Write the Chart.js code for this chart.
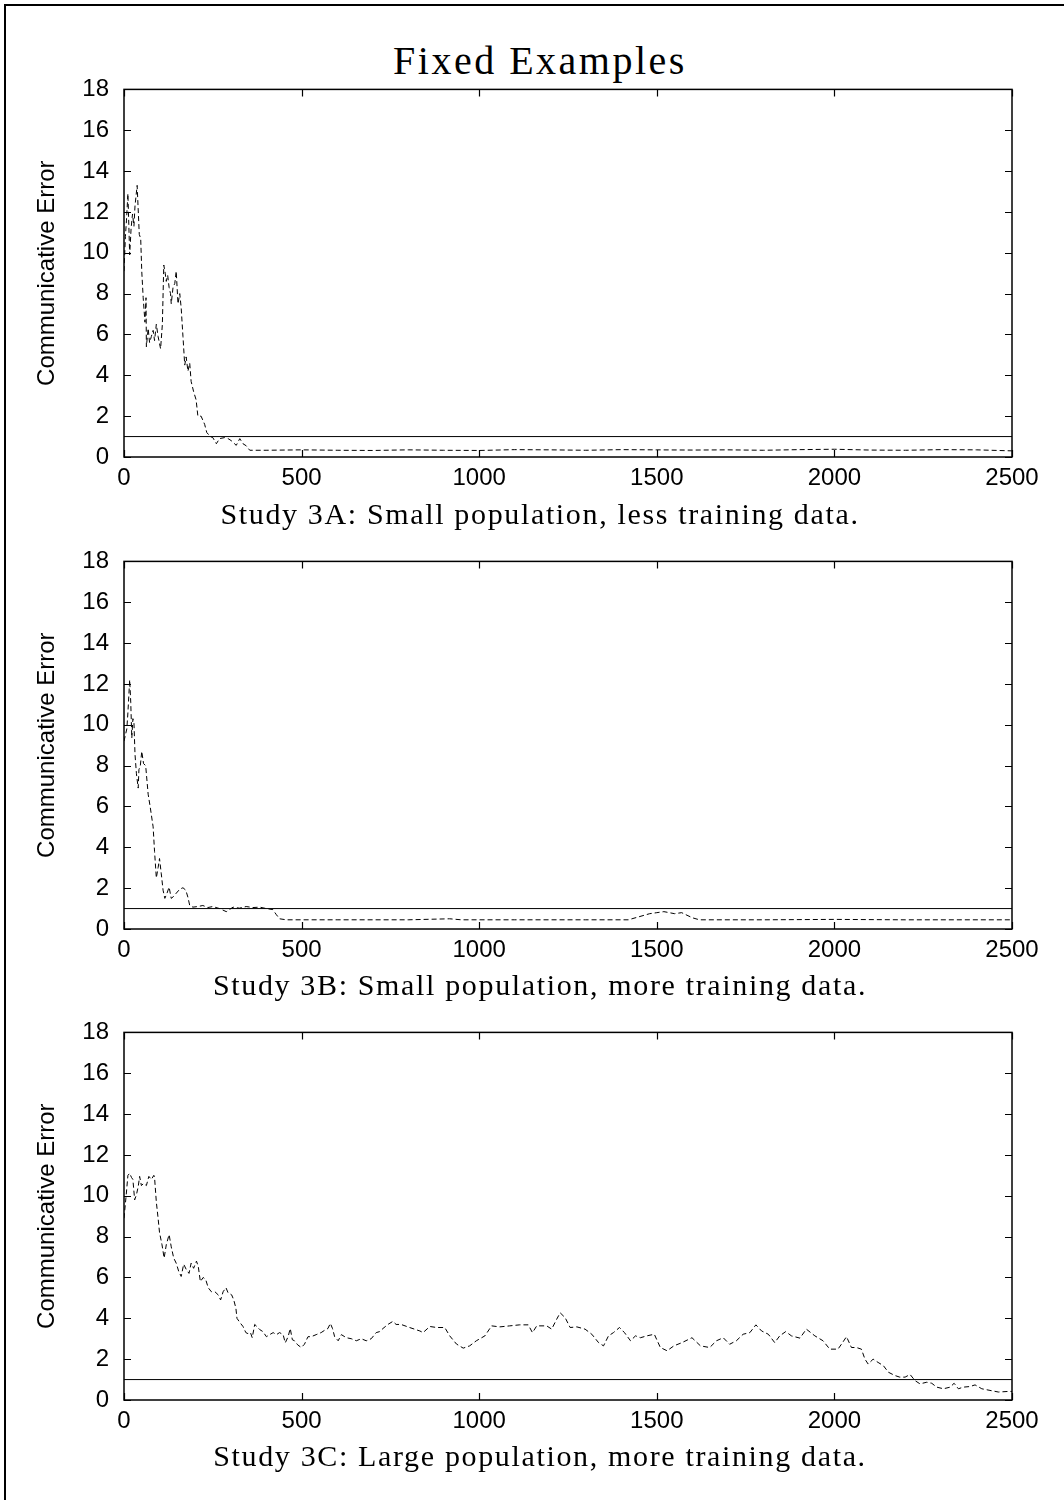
<!DOCTYPE html>
<html>
<head>
<meta charset="utf-8">
<script src="https://cdn.jsdelivr.net/npm/chart.js@4.4.1/dist/chart.umd.min.js"></script>
<style>
  body { margin: 0; background: #fff; }
  #page { position: relative; width: 1064px; height: 1500px; overflow: hidden; background: #fff; }
  #border { position: absolute; left: 4px; top: 4px; width: 1100px; height: 1600px; border-top: 2px solid #000; border-left: 2px solid #000; }
  .panel { position: absolute; left: 0; width: 1064px; height: 440px; }
  .serif { position: absolute; left: 0; width: 1080px; text-align: center; font-family: "Liberation Serif", serif; color: #000; white-space: nowrap; }
  #title { top: 37px; font-size: 40px; letter-spacing: 2.5px; }
  .caption { font-size: 30px; letter-spacing: 1.65px; }
</style>
</head>
<body>
<div id="page">
  <div id="border"></div>
  <div id="title" class="serif">Fixed Examples</div>
  <canvas id="plot-a" class="panel" width="1064" height="440" style="top:60px"></canvas>
  <div class="serif caption" style="top:497px">Study 3A: Small population, less training data.</div>
  <canvas id="plot-b" class="panel" width="1064" height="440" style="top:532px"></canvas>
  <div class="serif caption" style="top:968px">Study 3B: Small population, more training data.</div>
  <canvas id="plot-c" class="panel" width="1064" height="440" style="top:1003px"></canvas>
  <div class="serif caption" style="top:1439px">Study 3C: Large population, more training data.</div>
</div>
<script>
// axis ticks
const xTicks = [0, 500, 1000, 1500, 2000, 2500];
const yTicks = [0, 2, 4, 6, 8, 10, 12, 14, 16, 18];
const targetError = 1;

// Study 3A
const stepsA = [0, 4, 7, 11, 16, 20, 24, 28, 31, 37,
  43, 47, 50, 54, 59, 62, 63, 68, 72, 77,
  82, 86, 91, 96, 103, 108, 112, 116, 119, 123,
  127, 131, 133, 138, 143, 147, 152, 157, 161, 166,
  171, 175, 180, 185, 189, 196, 203, 208, 217, 227,
  233, 243, 250, 260, 269, 283, 293, 302, 316, 326,
  335, 344, 354, 400, 500, 600, 700, 800, 900, 1000,
  1100, 1200, 1300, 1400, 1500, 1600, 1700, 1800, 1900, 2000,
  2100, 2200, 2300, 2400, 2500];
const errorA = [9.1, 10.8, 11.6, 12.9, 9.9, 11.2, 11.9, 11.3, 12.3, 13.3,
  10.9, 10.7, 9.1, 7.8, 6.6, 7.8, 5.4, 6.3, 5.6, 5.9,
  6.2, 5.7, 6.5, 5.9, 5.3, 6.5, 9.4, 9.0, 8.6, 8.9,
  8.3, 8.0, 7.5, 8.3, 8.5, 9.1, 7.5, 8.0, 7.3, 5.9,
  4.5, 4.9, 4.2, 4.6, 3.7, 3.2, 2.8, 2.0, 2.0, 1.6,
  1.2, 1.0, 0.95, 0.65, 0.9, 0.95, 0.9, 0.8, 0.57, 0.9,
  0.65, 0.55, 0.33, 0.33, 0.35, 0.33, 0.32, 0.35, 0.33, 0.32,
  0.36, 0.35, 0.33, 0.36, 0.35, 0.34, 0.35, 0.33, 0.36, 0.38,
  0.34, 0.33, 0.36, 0.35, 0.3];

// Study 3B
const stepsB = [0, 4, 8, 11, 16, 19, 22, 25, 28, 31,
  35, 40, 42, 46, 50, 55, 61, 68, 74, 82,
  86, 91, 96, 100, 105, 110, 115, 121, 127, 133,
  140, 147, 157, 166, 174, 180, 185, 194, 208, 222,
  236, 250, 269, 288, 307, 325, 344, 363, 382, 401,
  419, 429, 438, 457, 600, 800, 917, 950, 1100, 1300,
  1420, 1450, 1480, 1500, 1520, 1550, 1570, 1600, 1620, 1800,
  2000, 2200, 2500];
const errorB = [9.2, 9.5, 9.8, 10.6, 12.2, 11.1, 9.35, 10.3, 10.1, 8.55,
  7.6, 6.9, 7.8, 8.0, 8.7, 8.1, 8.0, 6.6, 5.95, 5.0,
  3.8, 2.5, 3.0, 3.45, 2.7, 1.9, 1.5, 1.75, 2.05, 1.5,
  1.6, 1.75, 1.95, 2.02, 1.9, 1.55, 1.15, 1.07, 1.1, 1.15,
  1.05, 1.1, 1.0, 0.85, 1.07, 1.02, 1.1, 1.05, 1.07, 1.0,
  0.95, 0.7, 0.5, 0.45, 0.45, 0.45, 0.5, 0.45, 0.45, 0.45,
  0.45, 0.6, 0.75, 0.8, 0.85, 0.75, 0.8, 0.55, 0.45, 0.45,
  0.47, 0.45, 0.45];

// Study 3C
const stepsC = [0, 6, 11, 16, 21, 25, 30, 35, 40, 44,
  49, 55, 63, 70, 77, 84, 86, 91, 96, 100,
  107, 113, 119, 127, 133, 140, 147, 154, 161, 168,
  175, 183, 189, 196, 204, 209, 215, 223, 230, 237,
  246, 256, 265, 272, 279, 287, 293, 303, 309, 315,
  318, 326, 335, 343, 349, 356, 361, 368, 374, 382,
  391, 401, 410, 420, 429, 438, 448, 454, 462, 468,
  474, 480, 489, 499, 508, 518, 527, 541, 555, 568,
  574, 581, 587, 593, 603, 612, 626, 640, 654, 668,
  682, 696, 710, 720, 729, 743, 757, 766, 780, 804,
  833, 842, 861, 880, 903, 917, 936, 955, 973, 992,
  1016, 1035, 1058, 1086, 1114, 1138, 1150, 1162, 1190, 1204,
  1218, 1228, 1242, 1256, 1275, 1298, 1317, 1336, 1350, 1364,
  1378, 1395, 1409, 1426, 1440, 1454, 1472, 1493, 1510, 1529,
  1548, 1571, 1599, 1623, 1649, 1668, 1687, 1705, 1724, 1743,
  1762, 1779, 1795, 1814, 1832, 1846, 1863, 1879, 1903, 1921,
  1945, 1968, 1987, 2010, 2023, 2034, 2048, 2062, 2076, 2086,
  2095, 2109, 2123, 2138, 2152, 2170, 2184, 2199, 2213, 2227,
  2241, 2260, 2274, 2288, 2307, 2326, 2337, 2349, 2363, 2382,
  2396, 2415, 2438, 2462, 2490, 2500];
const errorC = [8.9, 10.0, 11.0, 11.1, 10.9, 10.8, 9.8, 10.05, 10.45, 10.95,
  10.5, 10.6, 10.5, 10.95, 10.8, 11.0, 10.9, 9.7, 8.9, 8.2,
  7.6, 6.95, 7.6, 8.1, 7.5, 6.95, 6.7, 6.3, 6.05, 6.65,
  6.4, 6.2, 6.7, 6.45, 6.8, 6.55, 5.8, 6.0, 5.9, 5.5,
  5.3, 5.3, 5.15, 4.9, 5.3, 5.5, 5.25, 5.15, 4.9, 4.5,
  4.0, 3.8, 3.6, 3.3, 3.25, 3.3, 3.05, 3.7, 3.6, 3.45,
  3.35, 3.1, 3.2, 3.3, 3.2, 3.3, 3.2, 2.8, 3.1, 3.5,
  2.95, 2.9, 2.7, 2.57, 2.73, 3.1, 3.1, 3.2, 3.3, 3.45,
  3.5, 3.75, 3.5, 3.1, 2.9, 3.2, 3.05, 3.0, 2.9, 3.0,
  2.9, 3.0, 3.3, 3.35, 3.5, 3.7, 3.85, 3.7, 3.7, 3.55,
  3.38, 3.3, 3.6, 3.55, 3.55, 3.14, 2.74, 2.54, 2.65, 2.9,
  3.14, 3.63, 3.58, 3.63, 3.68, 3.68, 3.3, 3.63, 3.63, 3.47,
  3.95, 4.27, 4.03, 3.55, 3.58, 3.47, 3.22, 2.81, 2.65, 3.14,
  3.3, 3.55, 3.3, 2.9, 3.14, 3.05, 3.14, 3.22, 2.57, 2.41,
  2.65, 2.81, 3.05, 2.65, 2.57, 2.9, 3.05, 2.73, 2.9, 3.22,
  3.3, 3.68, 3.38, 3.22, 2.81, 3.14, 3.35, 3.14, 3.03, 3.47,
  3.14, 2.9, 2.49, 2.49, 2.81, 3.1, 2.57, 2.57, 2.49, 2.0,
  1.76, 2.0, 1.84, 1.68, 1.36, 1.2, 1.12, 1.12, 1.25, 0.95,
  0.79, 0.87, 0.82, 0.63, 0.55, 0.63, 0.82, 0.55, 0.63, 0.66,
  0.74, 0.55, 0.47, 0.39, 0.42, 0.42];

// gnuplot style box with inward ticks on all four sides
const framePlugin = {
  id: 'frame',
  afterDatasetsDraw(chart) {
    const ctx = chart.ctx;
    const a = chart.chartArea;
    const x = chart.scales.x;
    const y = chart.scales.y;
    ctx.save();
    ctx.strokeStyle = '#000';
    ctx.lineWidth = 1.5;
    ctx.strokeRect(a.left, a.top, a.right - a.left, a.bottom - a.top);
    ctx.lineWidth = 1.2;
    ctx.beginPath();
    x.ticks.forEach(function (t) {
      const px = Math.round(x.getPixelForValue(t.value)) + 0.5;
      ctx.moveTo(px, a.bottom); ctx.lineTo(px, a.bottom - 7);
      ctx.moveTo(px, a.top); ctx.lineTo(px, a.top + 7);
    });
    y.ticks.forEach(function (t) {
      const py = Math.round(y.getPixelForValue(t.value)) + 0.5;
      ctx.moveTo(a.left, py); ctx.lineTo(a.left + 7, py);
      ctx.moveTo(a.right, py); ctx.lineTo(a.right - 7, py);
    });
    ctx.stroke();
    ctx.restore();
  }
};

const tickFont = { family: '"Liberation Sans", Arial, sans-serif', size: 24 };
const titleFont = { family: '"Liberation Sans", Arial, sans-serif', size: 24 };

function toPoints(steps, errors) {
  return steps.map(function (s, i) { return { x: s, y: errors[i] }; });
}

function makePanel(id, steps, errors) {
  const ctx = document.getElementById(id);
  if (!ctx) return;
  new Chart(ctx, {
    type: 'line',
    data: {
      datasets: [{
        data: toPoints(steps, errors),
        borderColor: '#000',
        borderWidth: 1,
        borderDash: [5, 3],
        pointRadius: 0,
        tension: 0
      }, {
        data: [{ x: xTicks[0], y: targetError }, { x: xTicks[xTicks.length - 1], y: targetError }],
        borderColor: '#000',
        borderWidth: 1,
        pointRadius: 0,
        tension: 0
      }]
    },
    options: {
      responsive: false,
      animation: false,
      events: [],
      layout: { padding: { top: 27, right: 52, bottom: 0, left: 0 } },
      plugins: { legend: { display: false }, tooltip: { enabled: false } },
      scales: {
        x: {
          type: 'linear',
          min: xTicks[0],
          max: xTicks[xTicks.length - 1],
          afterBuildTicks: function (s) { s.ticks = xTicks.map(function (v) { return { value: v }; }); },
          afterFit: function (s) { s.height = 43; },
          grid: { display: false, drawTicks: false },
          border: { display: false },
          ticks: { color: '#000', font: tickFont, padding: 7, maxRotation: 0, callback: function (v) { return String(v); } }
        },
        y: {
          type: 'linear',
          min: yTicks[0],
          max: yTicks[yTicks.length - 1],
          afterBuildTicks: function (s) { s.ticks = yTicks.map(function (v) { return { value: v }; }); },
          afterFit: function (s) { s.width = 124; },
          grid: { display: false, drawTicks: false },
          border: { display: false },
          ticks: { color: '#000', font: tickFont, padding: 15, callback: function (v) { return String(v); } },
          title: {
            display: true,
            text: 'Communicative Error',
            color: '#000',
            font: titleFont,
            padding: { top: 33, bottom: 0 }
          }
        }
      }
    },
    plugins: [framePlugin]
  });
}

makePanel('plot-a', stepsA, errorA);
makePanel('plot-b', stepsB, errorB);
makePanel('plot-c', stepsC, errorC);
</script>
</body>
</html>
